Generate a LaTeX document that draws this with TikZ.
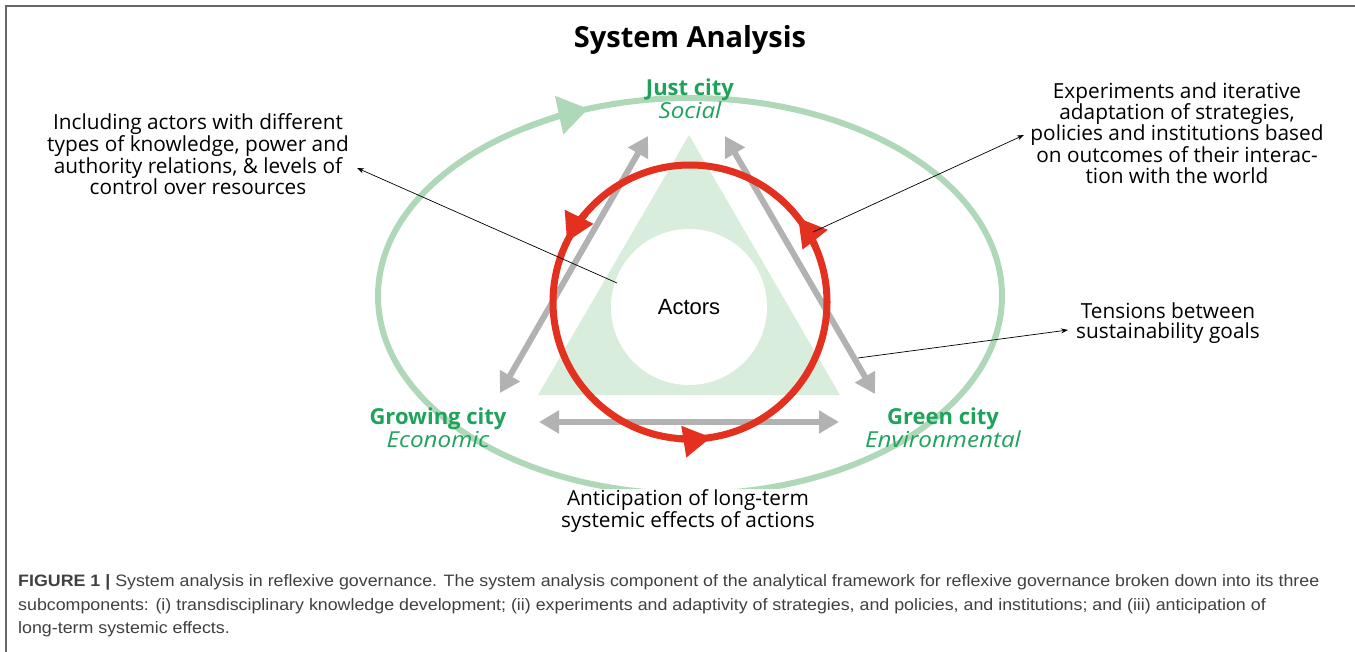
\documentclass[tikz,border=0pt]{standalone}
\usepackage{fontspec}
\setmainfont{Open Sans}
\newfontfamily\slantfont[FakeStretch=1.1]{Open Sans}
\newfontfamily\capfont[FakeStretch=1.08]{Liberation Sans}
\newfontfamily\actfont{Liberation Sans}
\usetikzlibrary{arrows.meta}

\definecolor{pillargreen}{HTML}{1FA35B}
\definecolor{ringgreen}{HTML}{AED8B8}
\definecolor{trigreen}{HTML}{D9EDDC}
\definecolor{loopred}{HTML}{E3301F}
\definecolor{linkgray}{HTML}{B2B2B2}
\definecolor{capgray}{HTML}{404040}

\tikzset{
  note/.style={align=center, font=\fontsize{20.8}{20.8}\selectfont, inner sep=1pt},
  pillar/.style={align=center, text=pillargreen, font=\fontsize{22}{23}\selectfont, inner sep=0pt},
  link/.style={linkgray, line width=6pt, {Triangle[length=20pt,width=22pt]}-{Triangle[length=20pt,width=22pt]}},
  pointer/.style={line width=0.7pt, -{Stealth[length=7pt,width=5pt]}},
}

\begin{document}
\begin{tikzpicture}[x=1pt,y=-1pt]
\useasboundingbox (0,0) rectangle (1355,652);
\draw[black!60, line width=1.2pt] (1355,6) -- (6,6) -- (6,652);

\node[font=\bfseries\fontsize{29}{31}\selectfont] (title) at (690,40) {System Analysis};

% outer ring with its arrow
\draw[ringgreen, line width=6pt] (690,296) ellipse [x radius=312, y radius=198];
\draw[ringgreen, line width=6pt, -{Triangle[length=30pt,width=38pt]}]
  (690,296) ++(238:312 and 198) arc [start angle=238, end angle=251, x radius=312, y radius=198];

% triangle and actors
\fill[trigreen] (689,135) -- (840,395) -- (538,395) -- cycle;
\node[circle, fill=white, minimum size=156pt, inner sep=0pt,
  font=\actfont\fontsize{22}{24}\selectfont] (actors) at (689,307) {Actors};

% links between the three goals
\coordinate (ecoL) at (500,393); \coordinate (socL) at (648,136);
\coordinate (socR) at (725,136); \coordinate (envR) at (875,394);
\coordinate (ecoB) at (539,422); \coordinate (envB) at (839,422);
\draw[link] (ecoL) -- (socL);
\draw[link] (socR) -- (envR);
\draw[link] (ecoB) -- (envB);

% adaptation loop
\draw[loopred, line width=7pt] (690,302) circle [radius=137];
\foreach \a in {220,336,95}
  \draw[loopred, line width=7pt, -{Triangle[length=28pt,width=30pt]}]
    (690,302) ++(\a:137) arc [start angle=\a, end angle=\a-14, radius=137];

% goals
\node[pillar] (just) at (690,99) {\textbf{Just city}\\{\slantfont\itshape Social}};
\node[pillar] (grow) at (438,428) {\textbf{Growing city}\\{\slantfont\itshape Economic}};
\node[pillar] (green) at (943,428) {\textbf{Green city}\\{\slantfont\itshape Environmental}};

% notes
\node[note] (incl) at (198,154) {Including actors with different\\types of knowledge, power and\\authority relations, \& levels of\\control over resources};
\node[note] (expt) at (1177,133) {Experiments and iterative\\adaptation of strategies,\\policies and institutions based\\on outcomes of their interac-\\tion with the world};
\node[note] (tens) at (1168,323) {Tensions between\\sustainability goals};
\node[note, fill=white] (antic) at (688,511) {Anticipation of long-term\\systemic effects of actions};

\coordinate (a1) at (617,283); \coordinate (t1) at (357,168);
\coordinate (a2) at (813,232); \coordinate (t2) at (1024,135);
\coordinate (a3) at (858,358); \coordinate (t3) at (1068,330);
\draw[pointer] (a1) -- (t1);
\draw[pointer] (a2) -- (t2);
\draw[pointer] (a3) -- (t3);

% caption
\node[anchor=north west, align=left, text=capgray, inner sep=0pt,
  font=\capfont\fontsize{16.5}{23.2}\selectfont] (cap) at (18,574.7)
  {\textbf{FIGURE 1 |} System analysis in reflexive governance. The system analysis component of the analytical framework for reflexive governance broken down into its three\\
   subcomponents: (i) transdisciplinary knowledge development; (ii) experiments and adaptivity of strategies, and policies, and institutions; and (iii) anticipation of\\
   long-term systemic effects.};
\end{tikzpicture}
\end{document}
